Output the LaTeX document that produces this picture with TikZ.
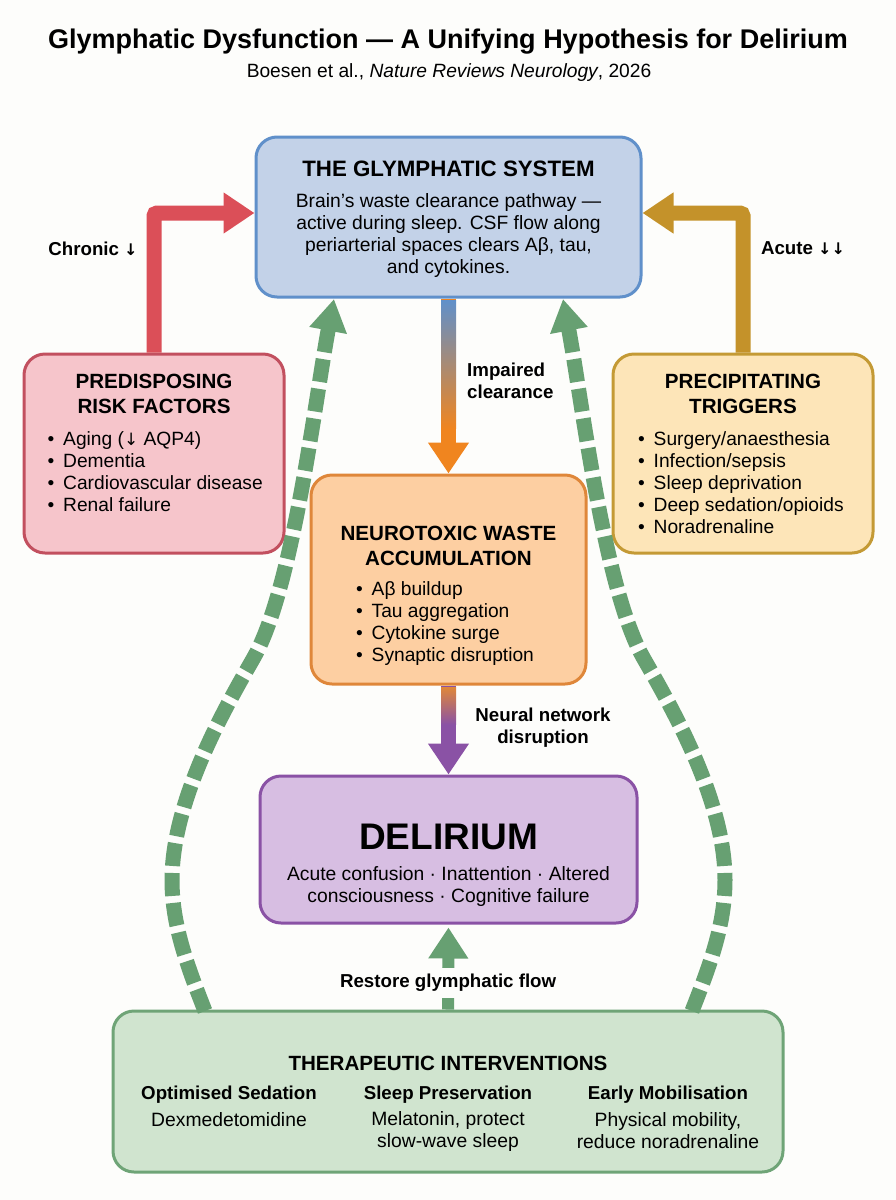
\documentclass[tikz,border=0pt]{standalone}
\usepackage{fontspec}
\setmainfont{Liberation Sans}
\newfontfamily\arrowfont{DejaVu Sans}
\usetikzlibrary{arrows.meta,calc}

\definecolor{pagebg}{HTML}{FDFDFB}
\definecolor{blueline}{HTML}{6090CA}
\definecolor{bluefill}{HTML}{C3D2E8}
\definecolor{redline}{HTML}{C2505F}
\definecolor{redfill}{HTML}{F6C5CB}
\definecolor{redarrow}{HTML}{DB4F58}
\definecolor{goldline}{HTML}{C49A35}
\definecolor{goldfill}{HTML}{FDE5B8}
\definecolor{goldarrow}{HTML}{C4922A}
\definecolor{orangeline}{HTML}{DF873A}
\definecolor{orangefill}{HTML}{FDCFA2}
\definecolor{orangearrow}{HTML}{F0851F}
\definecolor{purpleline}{HTML}{8A52A5}
\definecolor{purplefill}{HTML}{D7BEE2}
\definecolor{greenline}{HTML}{6FA477}
\definecolor{greenfill}{HTML}{D0E4CF}
\definecolor{greenarrow}{HTML}{67A072}

\newcommand{\lineitem}[1]{\makebox[15.5pt][l]{\textbullet}#1}
\newcommand{\dnarrow}{{\arrowfont\fontsize{16}{22}\selectfont ↓}}

\tikzset{
    box/.style={draw, line width=3pt, rounded corners=21pt},
    boxhead/.style={inner sep=0pt, align=center, font=\fontsize{20.6}{25}\selectfont\bfseries},
    boxtext/.style={inner sep=0pt, align=center, font=\fontsize{19.3}{22}\selectfont},
    boxlist/.style={inner sep=0pt, anchor=west, align=left, font=\fontsize{19.2}{22}\selectfont},
    flowlabel/.style={inner sep=0pt, align=center, text=black, font=\fontsize{18.7}{22}\selectfont\bfseries},
    flow/.style={line width=15pt, rounded corners=3pt, -{Triangle[length=31pt,width=39pt]}},
    greenflow/.style={line width=15pt, color=greenarrow, dash pattern=on 23pt off 7pt, -{Triangle[length=32pt,width=36pt]}}
}

\begin{document}
\begin{tikzpicture}[x=1pt, y=-1pt]
        \fill[pagebg] (0, 0) rectangle (896, 1200);

        % Title
        \node[inner sep=0pt, font=\fontsize{27}{30}\selectfont\bfseries] (title) at (448, 42) {Glymphatic Dysfunction — A Unifying Hypothesis for Delirium};
        \node[inner sep=0pt, font=\fontsize{19.2}{22}\selectfont] (subtitle) at (449, 73) {Boesen et al., \textit{Nature Reviews Neurology}, 2026};

        % Boxes
        \node[box, fill=bluefill, draw=blueline, minimum width=385pt, minimum height=160pt] (glymphatic) at (448.5, 217) {};
        \node[box, fill=redfill, draw=redline, minimum width=260pt, minimum height=199pt] (predisposing) at (154, 453.5) {};
        \node[box, fill=goldfill, draw=goldline, minimum width=260pt, minimum height=199pt] (precipitating) at (743, 453.5) {};
        \node[box, fill=orangefill, draw=orangeline, minimum width=275pt, minimum height=209pt] (neurotoxic) at (448.5, 579.5) {};
        \node[box, fill=purplefill, draw=purpleline, minimum width=377pt, minimum height=147pt] (delirium) at (448.5, 849.5) {};
        \node[box, fill=greenfill, draw=greenline, minimum width=670pt, minimum height=161pt] (therapeutic) at (448, 1091.5) {};

        % Glymphatic system
        \node[boxhead, font=\fontsize{22.3}{25}\selectfont\bfseries] (glymphaticHead) at (448.5, 169) {THE GLYMPHATIC SYSTEM};
        \node[boxtext] (glymphaticText) at (448.5, 235.5) {Brain's waste clearance pathway —\\active during sleep. CSF flow along\\periarterial spaces clears Aβ, tau,\\and cytokines.};

        % Predisposing risk factors
        \node[boxhead] (predisposingHead) at (154, 393.5) {PREDISPOSING\\RISK FACTORS};
        \node[boxlist] (predisposingList) at (47.5, 471.5) {\lineitem{Aging ({\arrowfont\fontsize{17}{22}\selectfont ↓} AQP4)}\\\lineitem{Dementia}\\\lineitem{Cardiovascular disease}\\\lineitem{Renal failure}};

        % Precipitating triggers
        \node[boxhead] (precipitatingHead) at (743, 393.5) {PRECIPITATING\\TRIGGERS};
        \node[boxlist] (precipitatingList) at (638, 482.5) {\lineitem{Surgery/anaesthesia}\\\lineitem{Infection/sepsis}\\\lineitem{Sleep deprivation}\\\lineitem{Deep sedation/opioids}\\\lineitem{Noradrenaline}};

        % Neurotoxic waste accumulation
        \node[boxhead] (neurotoxicHead) at (448.5, 545.5) {NEUROTOXIC WASTE\\ACCUMULATION};
        \node[boxlist] (neurotoxicList) at (356, 623.5) {\lineitem{Aβ buildup}\\\lineitem{Tau aggregation}\\\lineitem{Cytokine surge}\\\lineitem{Synaptic disruption}};

        % Delirium
        \node[inner sep=0pt, font=\fontsize{37}{42}\selectfont\bfseries] (deliriumHead) at (448.5, 837) {DELIRIUM};
        \node[boxtext] (deliriumText) at (448.5, 886) {Acute confusion · Inattention · Altered\\consciousness · Cognitive failure};

        % Therapeutic interventions
        \node[boxhead] (therapeuticHead) at (448, 1063) {THERAPEUTIC INTERVENTIONS};
        \node[flowlabel] (sedationHead) at (229, 1095) {Optimised Sedation};
        \node[flowlabel] (sleepHead) at (448, 1095) {Sleep Preservation};
        \node[flowlabel] (mobilisationHead) at (668, 1095) {Early Mobilisation};
        \node[boxtext] (sedationText) at (229, 1120) {Dexmedetomidine};
        \node[boxtext] (sleepText) at (448, 1131) {Melatonin, protect\\slow-wave sleep};
        \node[boxtext] (mobilisationText) at (668, 1131) {Physical mobility,\\reduce noradrenaline};

        % Risk arrows
        \coordinate (chronicBend) at (154, 213);
        \coordinate (acuteBend) at (743, 213);
        \draw[flow, color=redarrow] (predisposing.north -| chronicBend) -- (chronicBend) -- (glymphatic.west |- chronicBend);
        \draw[flow, color=goldarrow] (precipitating.north -| acuteBend) -- (acuteBend) -- (glymphatic.east |- acuteBend);
        \node[flowlabel] (chronicLabel) at (93, 248.5) {Chronic \dnarrow};
        \node[flowlabel] (acuteLabel) at (803, 248.5) {Acute \dnarrow\dnarrow};

        % Cascade arrows
        \draw[flow, color=orangearrow] (glymphatic.south) -- (neurotoxic.north);
        \shade[top color=blueline, bottom color=orangearrow] ($(glymphatic.south)+(-7.5,1.5)$) rectangle ($(neurotoxic.north)+(7.5,-45)$);
        \node[flowlabel, align=left, anchor=west] (impairedLabel) at (467, 381) {Impaired\\clearance};
        \draw[flow, color=purpleline] (neurotoxic.south) -- (delirium.north);
        \shade[top color=orangeline, bottom color=purpleline] ($(neurotoxic.south)+(-7.5,1.5)$) rectangle ($(delirium.north)+(7.5,-50)$);
        \node[flowlabel] (neuralLabel) at (543, 728) {Neural network\\disruption};

        % Restoring arrows
        \coordinate (leftFoot) at (205, 1011);
        \coordinate (leftWaist) at (172, 880);
        \coordinate (leftNeck) at (253, 659);
        \coordinate (leftTip) at (334, 299);
        \coordinate (rightFoot) at (692, 1011);
        \coordinate (rightWaist) at (725, 880);
        \coordinate (rightNeck) at (644, 659);
        \coordinate (rightTip) at (563, 299);
        \draw[greenflow] (leftFoot) .. controls (187, 965) and (172, 925) .. (leftWaist) .. controls (172, 800) and (225, 708) .. (leftNeck) .. controls (293, 590) and (315, 400) .. (leftTip);
        \draw[greenflow] (rightFoot) .. controls (710, 965) and (725, 925) .. (rightWaist) .. controls (725, 800) and (672, 708) .. (rightNeck) .. controls (604, 590) and (582, 400) .. (rightTip);
        \draw[line width=12pt, color=greenarrow, shorten >=3pt, -{Triangle[length=31pt,width=38pt]}] (therapeutic.north) -- (delirium.south)
            node[flowlabel, pos=0.31, fill=pagebg, inner xsep=4pt, inner ysep=6pt] (restoreLabel) {Restore glymphatic flow};

    \end{tikzpicture}
\end{document}
